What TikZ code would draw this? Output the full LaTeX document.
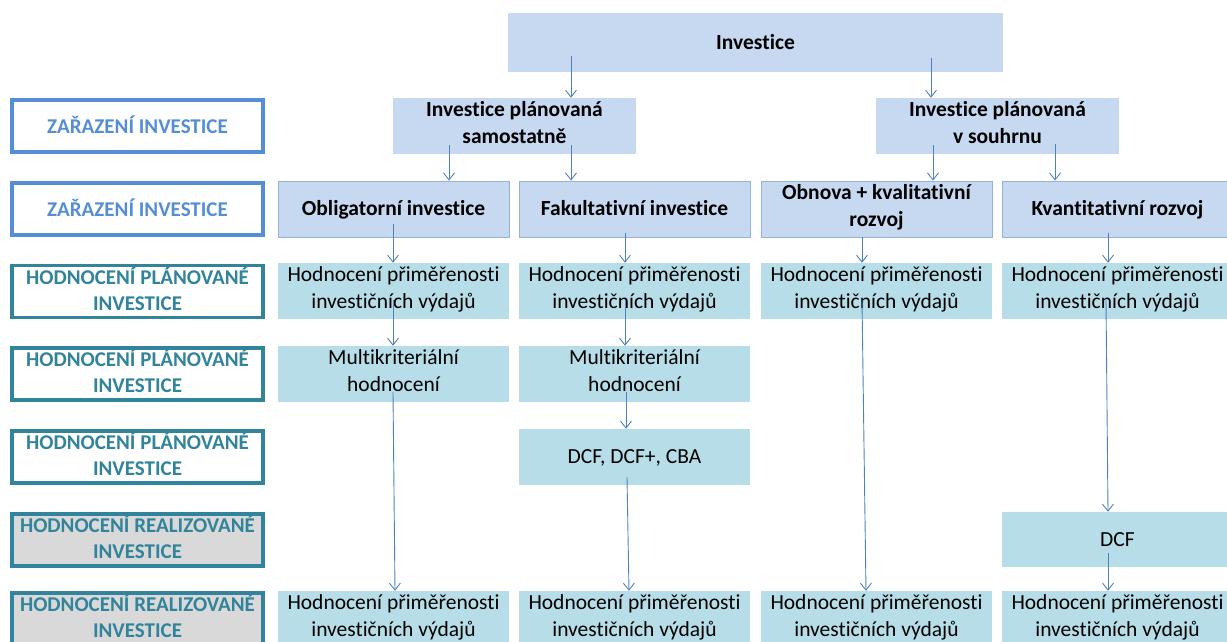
\documentclass[tikz,border=0pt]{standalone}
\usepackage{fontspec}
\setmainfont{Carlito}[Ligatures=NoCommon]
\usetikzlibrary{arrows.meta}
\definecolor{bfill}{HTML}{C6D9F1}
\definecolor{bline}{HTML}{95B3D7}
\definecolor{tfill}{HTML}{B7DEE8}
\definecolor{lblue}{HTML}{558ED5}
\definecolor{lteal}{HTML}{31849B}
\definecolor{gfill}{HTML}{D9D9D9}
\definecolor{arrc}{HTML}{4F81BD}
\newcommand\boxstrut{\rule[-6.6pt]{0pt}{27pt}}
\newcommand\boxtopstrut{\rule[-6.6pt]{0pt}{30pt}}
\newcommand\boxbotstrut{\rule[-5pt]{0pt}{5pt}}
\newcommand\labstrut{\rule[-6pt]{0pt}{26pt}}
\newcommand\labtopstrut{\rule[-6pt]{0pt}{28pt}}
\newcommand\labbotstrut{\rule[-4pt]{0pt}{4pt}}
\tikzset{
  strutted/.style={execute at begin node={\boxstrut}, execute at end node={\boxstrut}},
  two/.style={execute at begin node={\boxtopstrut}, execute at end node={\boxbotstrut}},
  lstrutted/.style={execute at begin node={\labstrut}, execute at end node={\labstrut}},
  ltwo/.style={execute at begin node={\labtopstrut}, execute at end node={\labbotstrut}},
  bbox/.style={fill=bfill, inner sep=0pt, align=center, strutted, font=\fontsize{21.5}{27}\selectfont\bfseries},
  bboxl/.style={bbox, draw=bline, line width=0.8pt},
  tbox/.style={fill=tfill, inner sep=0pt, align=center, strutted, font=\fontsize{21.5}{27}\selectfont},
  lab/.style={draw=lblue, line width=3.5pt, fill=white, text=lblue, inner sep=0pt, align=center, lstrutted,
    minimum width=251pt, minimum height=52pt, font=\fontsize{21}{26}\selectfont\bfseries},
  labt/.style={lab, draw=lteal, text=lteal, ltwo},
  labg/.style={labt, fill=gfill},
  arr/.style={draw=arrc, line width=0.9pt, -{Straight Barb[length=7pt,width=11pt]}},
}
\begin{document}
\begin{tikzpicture}[x=1pt,y=-1pt]
\useasboundingbox (0,0) rectangle (1227,641);
% labels
\node[lab]  (l1) at (137.5,126) {ZAŘAZENÍ INVESTICE};
\node[lab]  (l2) at (137.5,209) {ZAŘAZENÍ INVESTICE};
\node[labt] (l3) at (137.5,291.5) {HODNOCENÍ PLÁNOVANÉ\\INVESTICE};
\node[labt] (l4) at (137.5,374) {HODNOCENÍ PLÁNOVANÉ\\INVESTICE};
\node[labt] (l5) at (137.5,457) {HODNOCENÍ PLÁNOVANÉ\\INVESTICE};
\node[labg] (l6) at (137.5,540) {HODNOCENÍ REALIZOVANÉ\\INVESTICE};
\node[labg] (l7) at (137.5,619) {HODNOCENÍ REALIZOVANÉ\\INVESTICE};
% top
\node[bbox, minimum width=495pt, minimum height=59pt] (inv) at (755.5,42.5) {Investice};
\node[bbox, two, minimum width=243pt, minimum height=56pt] (sam) at (514.5,126) {Investice plánovaná\\samostatně};
\node[bbox, two, minimum width=243pt, minimum height=56pt] (sou) at (997.5,126) {Investice plánovaná\\v souhrnu};
% row 2
\node[bboxl, minimum width=231pt, minimum height=56pt] (a2) at (393.5,209) {Obligatorní investice};
\node[bboxl, minimum width=231pt, minimum height=56pt] (b2) at (634.5,209) {Fakultativní investice};
\node[bboxl, two, minimum width=231pt, minimum height=56pt] (c2) at (876.5,209) {Obnova + kvalitativní\\rozvoj};
\node[bboxl, minimum width=231pt, minimum height=56pt] (d2) at (1117.5,209) {Kvantitativní rozvoj};
% row 3
\node[tbox, two, minimum width=231pt, minimum height=56pt] (a3) at (393.5,291) {Hodnocení přiměřenosti\\investičních výdajů};
\node[tbox, two, minimum width=231pt, minimum height=56pt] (b3) at (634.5,291) {Hodnocení přiměřenosti\\investičních výdajů};
\node[tbox, two, minimum width=231pt, minimum height=56pt] (c3) at (876.5,291) {Hodnocení přiměřenosti\\investičních výdajů};
\node[tbox, two, minimum width=231pt, minimum height=56pt] (d3) at (1117.5,291) {Hodnocení přiměřenosti\\investičních výdajů};
% row 4
\node[tbox, two, minimum width=231pt, minimum height=56pt] (a4) at (393.5,374) {Multikriteriální\\hodnocení};
\node[tbox, two, minimum width=231pt, minimum height=56pt] (b4) at (634.5,374) {Multikriteriální\\hodnocení};
% row 5
\node[tbox, minimum width=231pt, minimum height=56pt] (b5) at (634.5,457) {DCF, DCF+, CBA};
% row 6
\node[tbox, minimum width=231pt, minimum height=55pt] (d6) at (1117.5,539.5) {DCF};
% row 7
\node[tbox, two, minimum width=231pt, minimum height=56pt] (a7) at (393.5,619) {Hodnocení přiměřenosti\\investičních výdajů};
\node[tbox, two, minimum width=231pt, minimum height=56pt] (b7) at (634.5,619) {Hodnocení přiměřenosti\\investičních výdajů};
\node[tbox, two, minimum width=231pt, minimum height=56pt] (c7) at (876.5,619) {Hodnocení přiměřenosti\\investičních výdajů};
\node[tbox, two, minimum width=231pt, minimum height=56pt] (d7) at (1117.5,619) {Hodnocení přiměřenosti\\investičních výdajů};
% arrows
\draw[arr] ([xshift=56.5pt,yshift=42pt]sam.north) -- ([xshift=56.5pt]sam.north);
\draw[arr] ([xshift=-66.5pt,yshift=40pt]sou.north) -- ([xshift=-66.5pt]sou.north);
\draw[arr] ([xshift=55.5pt,yshift=36pt]a2.north) -- ([xshift=55.5pt]a2.north);
\draw[arr] ([xshift=-63.5pt,yshift=36pt]b2.north) -- ([xshift=-63.5pt]b2.north);
\draw[arr] ([xshift=56.5pt,yshift=36pt]c2.north) -- ([xshift=56.5pt]c2.north);
\draw[arr] ([xshift=-62.5pt,yshift=37pt]d2.north) -- ([xshift=-62.5pt]d2.north);
\draw[arr] ([xshift=-0.5pt,yshift=13pt]a2.south) -- ([xshift=-0.5pt]a3.north);
\draw[arr] ([xshift=-9.5pt,yshift=4pt]b2.south) -- ([xshift=-9.5pt]b3.north);
\draw[arr] ([xshift=-14.5pt]c2.south) -- ([xshift=-14.5pt]c3.north);
\draw[arr] ([xshift=-9.5pt,yshift=4pt]d2.south) -- ([xshift=-9.5pt]d3.north);
\draw[arr] ([xshift=-0.5pt,yshift=19pt]a3.south) -- ([xshift=-0.5pt]a4.north);
\draw[arr] ([xshift=-0.5pt,yshift=10pt]a4.south) -- ([xshift=1.5pt]a7.north);
\draw[arr] ([xshift=-9.5pt,yshift=19pt]b3.south) -- ([xshift=-9.5pt]b4.north);
\draw[arr] ([xshift=-8.5pt,yshift=10pt]b4.south) -- ([xshift=-8.5pt]b5.north);
\draw[arr] ([xshift=-7.5pt,yshift=8pt]b5.south) -- ([xshift=-5.5pt]b7.north);
\draw[arr] ([xshift=-14.5pt,yshift=19pt]c3.south) -- ([xshift=-10.5pt]c7.north);
\draw[arr] ([xshift=-11.5pt,yshift=19pt]d3.south) -- ([xshift=-9.5pt]d6.north);
\draw[arr] ([xshift=-9.5pt,yshift=14pt]d6.south) -- ([xshift=-9.5pt]d7.north);
\end{tikzpicture}
\end{document}
